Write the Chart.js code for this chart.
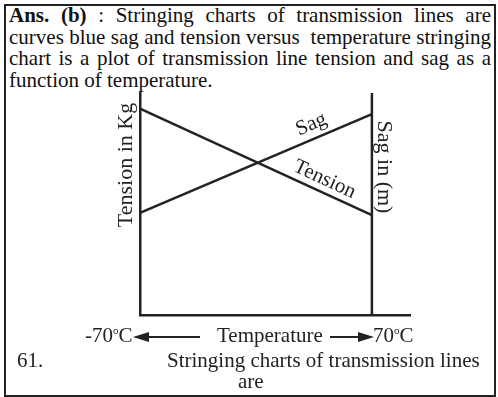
<!DOCTYPE html>
<html lang="en">
<head>
<meta charset="UTF-8">
<title>stringing chart</title>
<script src="https://cdn.jsdelivr.net/npm/chart.js"></script>
<style>
    body { margin: 0; background: #fff; width: 498px; height: 397px; position: relative; overflow: hidden;
           font-family: "Liberation Serif", "Times New Roman", serif; color: #111; }
    .frame { position: absolute; left: 4px; top: 4px; width: 488px; height: 389px; border: 2px solid #222; }
    .para { position: absolute; left: 9px; top: 5px; width: 482px; font-size: 21px; line-height: 21.5px;
            text-align: justify; text-align-last: left; }
    .lbl { position: absolute; font-size: 21px; white-space: nowrap; color: #222; }
    .rot { transform-origin: center center; }
    sup { font-size: 11px; vertical-align: 0; position: relative; top: -8px; }
    .arrow { position: absolute; height: 2px; background: #222; }
    .head-l { position: absolute; width: 0; height: 0; border-top: 5px solid transparent; border-bottom: 5px solid transparent; border-right: 16px solid #222; }
    .head-r { position: absolute; width: 0; height: 0; border-top: 5px solid transparent; border-bottom: 5px solid transparent; border-left: 16px solid #222; }
    canvas { position: absolute; left: 0; top: 0; }
</style>
</head>
<body>
    <div class="frame"></div>
    <div class="para"><b>Ans. (b)</b> : Stringing charts of transmission lines are curves blue sag and tension versus&nbsp; temperature stringing chart is a plot of transmission line tension and sag as a function of temperature.</div>

    <canvas id="chart" width="498" height="397"></canvas>

    <!-- axis titles -->
    <div class="lbl rot" style="left:60px; top:152px; width:130px; text-align:center; font-size:22px; transform: rotate(-90deg);">Tension in Kg</div>
    <div class="lbl rot" style="left:335px; top:154px; width:100px; text-align:center; font-size:22px; transform: rotate(90deg);">Sag in (m)</div>

    <!-- line labels -->
    <div class="lbl rot" style="left:292px; top:111px; width:38px; text-align:center; transform: rotate(-23deg);">Sag</div>
    <div class="lbl rot" style="left:289px; top:166px; width:72px; text-align:center; transform: rotate(25deg);">Tension</div>

    <!-- temperature row -->
    <div class="lbl" style="left:85px; top:323px;">-70<sup>o</sup>C</div>
    <div class="head-l" style="left:133px; top:332px;"></div>
    <div class="arrow" style="left:145px; top:336px; width:55px;"></div>
    <div class="lbl" style="left:217px; top:323px;">Temperature</div>
    <div class="arrow" style="left:330px; top:336px; width:32px;"></div>
    <div class="head-r" style="left:358px; top:332px;"></div>
    <div class="lbl" style="left:373px; top:323px;">70<sup>o</sup>C</div>

    <div class="lbl" style="left:17px; top:348px;">61.</div>
    <div class="lbl" style="left:167px; top:348px;">Stringing charts of transmission lines</div>
    <div class="lbl" style="left:238px; top:369px;">are</div>

<script>
    const temps = [-70, 70];
    const tension = [93, 45];
    const sag = [46, 90.5];

    // second vertical axis at +70 degC
    const rightAxis = {
        id: 'rightAxis',
        afterDatasetsDraw(chart) {
            const { ctx, chartArea, scales } = chart;
            const x = scales.x.getPixelForValue(temps[temps.length - 1]);
            ctx.save();
            ctx.strokeStyle = '#222';
            ctx.lineWidth = 2.5;
            ctx.beginPath();
            ctx.moveTo(x, chartArea.top);
            ctx.lineTo(x, chartArea.bottom);
            ctx.stroke();
            ctx.restore();
        }
    };

    new Chart(document.getElementById('chart'), {
        type: 'line',
        data: {
            datasets: [
                { label: 'Tension', data: temps.map((t, i) => ({ x: t, y: tension[i] })), borderColor: '#222', borderWidth: 2.5, pointRadius: 0 },
                { label: 'Sag', data: temps.map((t, i) => ({ x: t, y: sag[i] })), borderColor: '#222', borderWidth: 2.5, pointRadius: 0 }
            ]
        },
        options: {
            responsive: false,
            animation: false,
            layout: { padding: { left: 140, top: 93, right: 88, bottom: 82 } },
            plugins: { legend: { display: false }, tooltip: { enabled: false } },
            scales: {
                x: { type: 'linear', min: -70, max: 93, grid: { display: false, drawTicks: false },
                     border: { color: '#222', width: 2.5 }, ticks: { display: false } },
                y: { min: 0, max: 100, grid: { display: false, drawTicks: false },
                     border: { color: '#222', width: 2.5 }, ticks: { display: false } }
            }
        },
        plugins: [rightAxis]
    });
</script>
</body>
</html>
